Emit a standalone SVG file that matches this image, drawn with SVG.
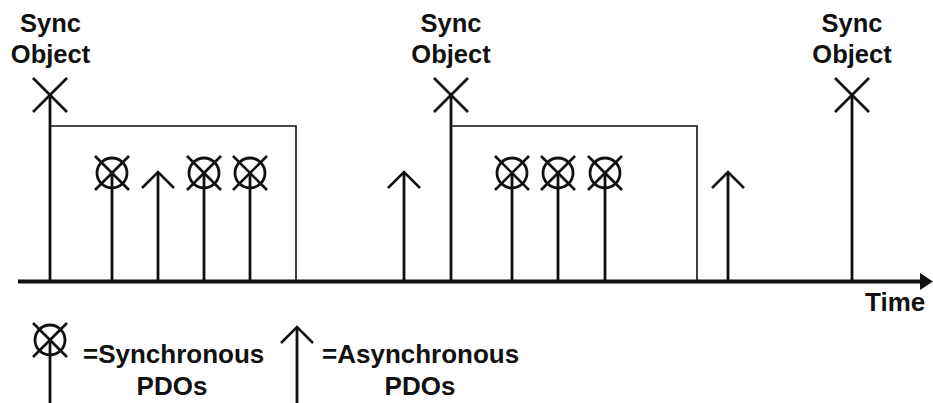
<svg xmlns="http://www.w3.org/2000/svg" width="933" height="403" viewBox="0 0 933 403">
<defs>
<style>
.t{font-family:"Liberation Sans",Arial,sans-serif;font-weight:bold;font-size:25.5px;fill:#111;text-anchor:middle}
.tl{font-family:"Liberation Sans",Arial,sans-serif;font-weight:bold;font-size:26px;fill:#111}
.tm{font-family:"Liberation Sans",Arial,sans-serif;font-weight:bold;font-size:26px;fill:#111;text-anchor:middle}
.v{stroke:#111;stroke-width:2.8;fill:none}
.x{stroke:#111;stroke-width:2.6;fill:none}
.r{stroke:#111;stroke-width:1.6;fill:none}
.c{stroke:#111;stroke-width:2.8;fill:none}
</style>
<g id="sync">
<line class="x" x1="-17" y1="-17" x2="17" y2="17"/>
<line class="x" x1="-17" y1="17" x2="17" y2="-17"/>
</g>
<g id="pdo">
<circle class="c" r="15"/>
<line class="x" x1="-17" y1="-17" x2="17" y2="17"/>
<line class="x" x1="-17" y1="17" x2="17" y2="-17"/>
</g>
<g id="arr">
<polyline class="x" points="-16,16 0,0 16,16"/>
</g>
</defs>
<rect width="933" height="403" fill="#fff"/>
<g id="windows">
<polyline class="r" points="50,126 296,126 296,281"/>
<polyline class="r" points="451,126 697,126 697,281"/>
</g>
<g id="connectors">
<line class="v" x1="50" y1="95" x2="50" y2="281"/>
<line class="v" x1="451" y1="95" x2="451" y2="281"/>
<line class="v" x1="852" y1="95" x2="852" y2="281"/>
<line class="v" x1="112" y1="173" x2="112" y2="281"/>
<line class="v" x1="204" y1="173" x2="204" y2="281"/>
<line class="v" x1="250" y1="173" x2="250" y2="281"/>
<line class="v" x1="158" y1="173" x2="158" y2="281"/>
<line class="v" x1="404" y1="173" x2="404" y2="281"/>
<line class="v" x1="512" y1="173" x2="512" y2="281"/>
<line class="v" x1="558" y1="173" x2="558" y2="281"/>
<line class="v" x1="605" y1="173" x2="605" y2="281"/>
<line class="v" x1="728" y1="173" x2="728" y2="281"/>
</g>
<g id="axis">
<line x1="18" y1="281.5" x2="922" y2="281.5" stroke="#111" stroke-width="4.2"/>
<polygon points="920,273 933,281.5 920,290" fill="#111"/>
<text class="tl" x="865" y="311">Time</text>
</g>
<g id="sync1">
<use href="#sync" x="50" y="95"/>
<text class="t" x="50.5" y="32">Sync</text>
<text class="t" x="50.5" y="63">Object</text>
</g>
<g id="sync2">
<use href="#sync" x="451" y="95"/>
<text class="t" x="451" y="32">Sync</text>
<text class="t" x="451" y="63">Object</text>
</g>
<g id="sync3">
<use href="#sync" x="852" y="95"/>
<text class="t" x="852" y="32">Sync</text>
<text class="t" x="852" y="63">Object</text>
</g>
<g id="pdos">
<use href="#pdo" x="112" y="173"/>
<use href="#pdo" x="204" y="173"/>
<use href="#pdo" x="250" y="173"/>
<use href="#pdo" x="512" y="173"/>
<use href="#pdo" x="558" y="173"/>
<use href="#pdo" x="605" y="173"/>
<use href="#arr" x="158" y="172"/>
<use href="#arr" x="404" y="172"/>
<use href="#arr" x="728" y="172"/>
</g>
<g id="legend-sync">
<use href="#pdo" x="50" y="340"/>
<line class="v" x1="50" y1="340" x2="50" y2="403"/>
<text class="tl" x="83" y="363">=Synchronous</text>
<text class="tm" x="172" y="395">PDOs</text>
</g>
<g id="legend-async">
<use href="#arr" x="297" y="327"/>
<line class="v" x1="297" y1="328" x2="297" y2="403"/>
<text class="tl" x="322" y="363">=Asynchronous</text>
<text class="tm" x="420" y="395">PDOs</text>
</g>
</svg>
